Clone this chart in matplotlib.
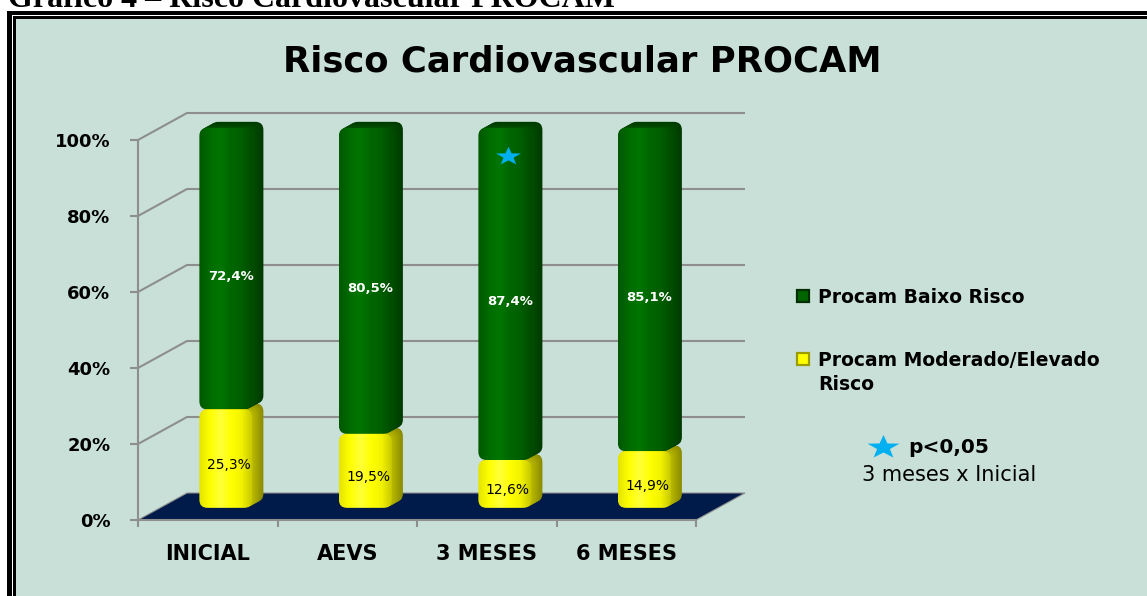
"""Risco Cardiovascular PROCAM: 100% stacked bars drawn with a flat 3D look."""

import matplotlib
import numpy as np

matplotlib.use("Agg")
import matplotlib.pyplot as plt
from matplotlib.colors import to_rgb
from matplotlib.patches import FancyBboxPatch, Polygon, Rectangle
from matplotlib.path import Path

CATEGORIES = ["INICIAL", "AEVS", "3 MESES", "6 MESES"]
BAIXO_RISCO = [72.4, 80.5, 87.4, 85.1]
MODERADO_RISCO = [25.3, 19.5, 12.6, 14.9]
SERIES_LABELS = ["Procam Baixo Risco", "Procam Moderado/Elevado\nRisco"]
Y_TICKS = [0, 20, 40, 60, 80, 100]
STAR_CATEGORY = 2          # 3 MESES
STAR_LEVEL = 95.8
TITLE = "Risco Cardiovascular PROCAM"
CAPTION = "Gráfico 4 – Risco Cardiovascular PROCAM"
NOTE = ["p<0,05", "3 meses x Inicial"]

W, H = 1147, 596
PX_X = 139.5               # pixels per category
PX_Y = 3.8                 # pixels per percent
WALL_DX, WALL_DY = 49 / PX_X, 27 / PX_Y
BAR_LEFT, BAR_W = 0.44, 0.38
BAR_BASE = 3.2
BAR_DX, BAR_DY = 11 / PX_X, 6 / PX_Y
RADIUS = 0.058

BG = "#c8e0d8"
GRID = "#8e8e8e"
GREEN_FACE = ["#005800", "#006c00", "#007600", "#006600", "#005e00", "#004a00"]
GREEN_SIDE = ("#003a00", "#005000")
YELLOW_FACE = ["#e4e400", "#ffff00", "#ffff3a", "#ffff00", "#f2f200", "#c4c400"]
YELLOW_SIDE = ("#8c8c00", "#bcbc00")
STAR_BLUE = "#00b0f0"


def _mix(c1, c2, t):
    a, b = np.array(to_rgb(c1)), np.array(to_rgb(c2))
    return tuple(a * (1 - t) + b * t)


def _gradient(stops, n=64):
    pos = np.linspace(0, 1, len(stops))
    cols = np.array([to_rgb(c) for c in stops])
    xs = np.linspace(0, 1, n)
    return np.stack([np.interp(xs, pos, cols[:, j]) for j in range(3)], axis=-1)[None, :, :]


def _rounded(x, y, w, h, color, z):
    return FancyBboxPatch((x, y), w, h, boxstyle=f"round,pad=0,rounding_size={RADIUS}",
                          mutation_aspect=PX_X / PX_Y, fc=color, ec="none", zorder=z)


def _block(ax, x, y0, y1, face_stops, side, z):
    steps = 8
    for k in range(steps, 0, -1):
        t = k / steps
        ax.add_patch(_rounded(x + t * BAR_DX, y0 + t * BAR_DY, BAR_W, y1 - y0,
                              _mix(side[1], side[0], t), z))
    face = _rounded(x, y0, BAR_W, y1 - y0, "none", z + 0.1)
    ax.add_patch(face)
    im = ax.imshow(_gradient(face_stops), extent=(x, x + BAR_W, y0, y1), aspect="auto",
                   interpolation="bilinear", zorder=z + 0.1)
    im.set_clip_path(face)


def _star_marker(stretch=1.35):
    ang = np.pi / 2 + np.arange(10) * np.pi / 5
    rad = np.where(np.arange(10) % 2 == 0, 1.0, 0.4)
    verts = np.column_stack([stretch * rad * np.cos(ang), rad * np.sin(ang)])
    return Path(np.vstack([verts, verts[:1]]), closed=True)


fig = plt.figure(figsize=(W / 100, H / 100), dpi=100)

# page layer in pixel coordinates: caption, frame, title, legend
bg = fig.add_axes([0, 0, 1, 1])
bg.set_xlim(0, W)
bg.set_ylim(H, 0)
bg.axis("off")
bg.add_patch(Rectangle((7, 11), W + 50, H + 50, fc="black", ec="none"))
bg.add_patch(Rectangle((12, 15), W + 50, H + 50, fc="white", ec="none"))
bg.add_patch(Rectangle((13, 16), W + 50, H + 50, fc="black", ec="none"))
bg.add_patch(Rectangle((15.5, 18.5), W + 50, H + 50, fc=BG, ec="none"))
bg.text(8, 7, CAPTION, family="Liberation Serif", weight="bold", fontsize=23, va="baseline")
bg.text(582, 72, TITLE, ha="center", va="baseline", fontsize=25.5, weight="bold")

legend_colors = [("#006400", "#002e00"), ("#ffff00", "#9c9c00")]
legend_rows = [303, 366]
for label, (fc, ec), base in zip(SERIES_LABELS, legend_colors, legend_rows):
    bg.plot([803], [base - 7], marker="s", ms=8, mfc=fc, mec=ec, mew=1.6)
    for j, line in enumerate(label.split("\n")):
        bg.text(818, base + 24 * j, line, fontsize=13.5, weight="bold", va="baseline")

bg.plot([883], [447], marker=_star_marker(), ms=23, color=STAR_BLUE, mec="none")
bg.text(908, 453, NOTE[0], fontsize=14.5, weight="bold", va="baseline")
bg.text(949, 481, NOTE[1], fontsize=15, ha="center", va="baseline")

# chart layer in data coordinates
ax = fig.add_axes([138 / W, (H - 520) / H, 4.5 * PX_X / W, 112 * PX_Y / H])
ax.patch.set_visible(False)

for v in Y_TICKS[1:]:
    ax.plot([0, WALL_DX, len(CATEGORIES) + WALL_DX], [v, v + WALL_DY, v + WALL_DY],
            color=GRID, lw=1.5, zorder=1, solid_capstyle="butt")
ax.add_patch(Polygon([(0, 0), (len(CATEGORIES), 0), (len(CATEGORIES) + WALL_DX, WALL_DY),
                      (WALL_DX, WALL_DY)], closed=True, fc="#001a4a", ec=GRID, lw=0.8, zorder=2))

totals = np.array(BAIXO_RISCO) + np.array(MODERADO_RISCO)
low = np.array(MODERADO_RISCO) / totals * 100
high = np.array(BAIXO_RISCO) / totals * 100

for i in range(len(CATEGORIES)):
    x = i + BAR_LEFT
    z = 3 + i * 2
    _block(ax, x, BAR_BASE, BAR_BASE + low[i], YELLOW_FACE, YELLOW_SIDE, z)
    _block(ax, x, BAR_BASE + low[i], BAR_BASE + 100, GREEN_FACE, GREEN_SIDE, z + 1)
    ax.text(i + 0.65, 1.6 + low[i] / 2, f"{MODERADO_RISCO[i]:.1f}%".replace(".", ","),
            ha="center", va="center", fontsize=10, color="black", zorder=20)
    ax.text(i + 0.665, 1.2 + low[i] + high[i] / 2, f"{BAIXO_RISCO[i]:.1f}%".replace(".", ","),
            ha="center", va="center", fontsize=9.5, weight="bold", color="white", zorder=20)

ax.plot([STAR_CATEGORY + 0.652], [STAR_LEVEL], marker=_star_marker(), ms=18,
        color=STAR_BLUE, mec="none", zorder=25)

ax.set_xlim(0, 4.5)
ax.set_ylim(0, 112)
for side in ("top", "right"):
    ax.spines[side].set_visible(False)
for side in ("left", "bottom"):
    ax.spines[side].set_color(GRID)
    ax.spines[side].set_linewidth(1.5)
    ax.spines[side].set_zorder(2.5)
ax.spines["left"].set_bounds(0, 100)
ax.spines["bottom"].set_bounds(0, len(CATEGORIES))

ax.set_yticks(Y_TICKS, [f"{v}%" for v in Y_TICKS])
ax.set_xticks(range(len(CATEGORIES) + 1), [""] * (len(CATEGORIES) + 1))
ax.set_xticks([i + 0.5 for i in range(len(CATEGORIES))], CATEGORIES, minor=True)
ax.tick_params(axis="y", length=5.8, width=1.5, color=GRID, pad=14, labelsize=13)
ax.tick_params(axis="x", which="major", length=5, width=1.5, color=GRID)
ax.tick_params(axis="x", which="minor", length=0, pad=17, labelsize=15)
for lab in ax.get_yticklabels() + ax.get_xticklabels(minor=True):
    lab.set_fontweight("bold")

fig.savefig("out.png", dpi=100)
